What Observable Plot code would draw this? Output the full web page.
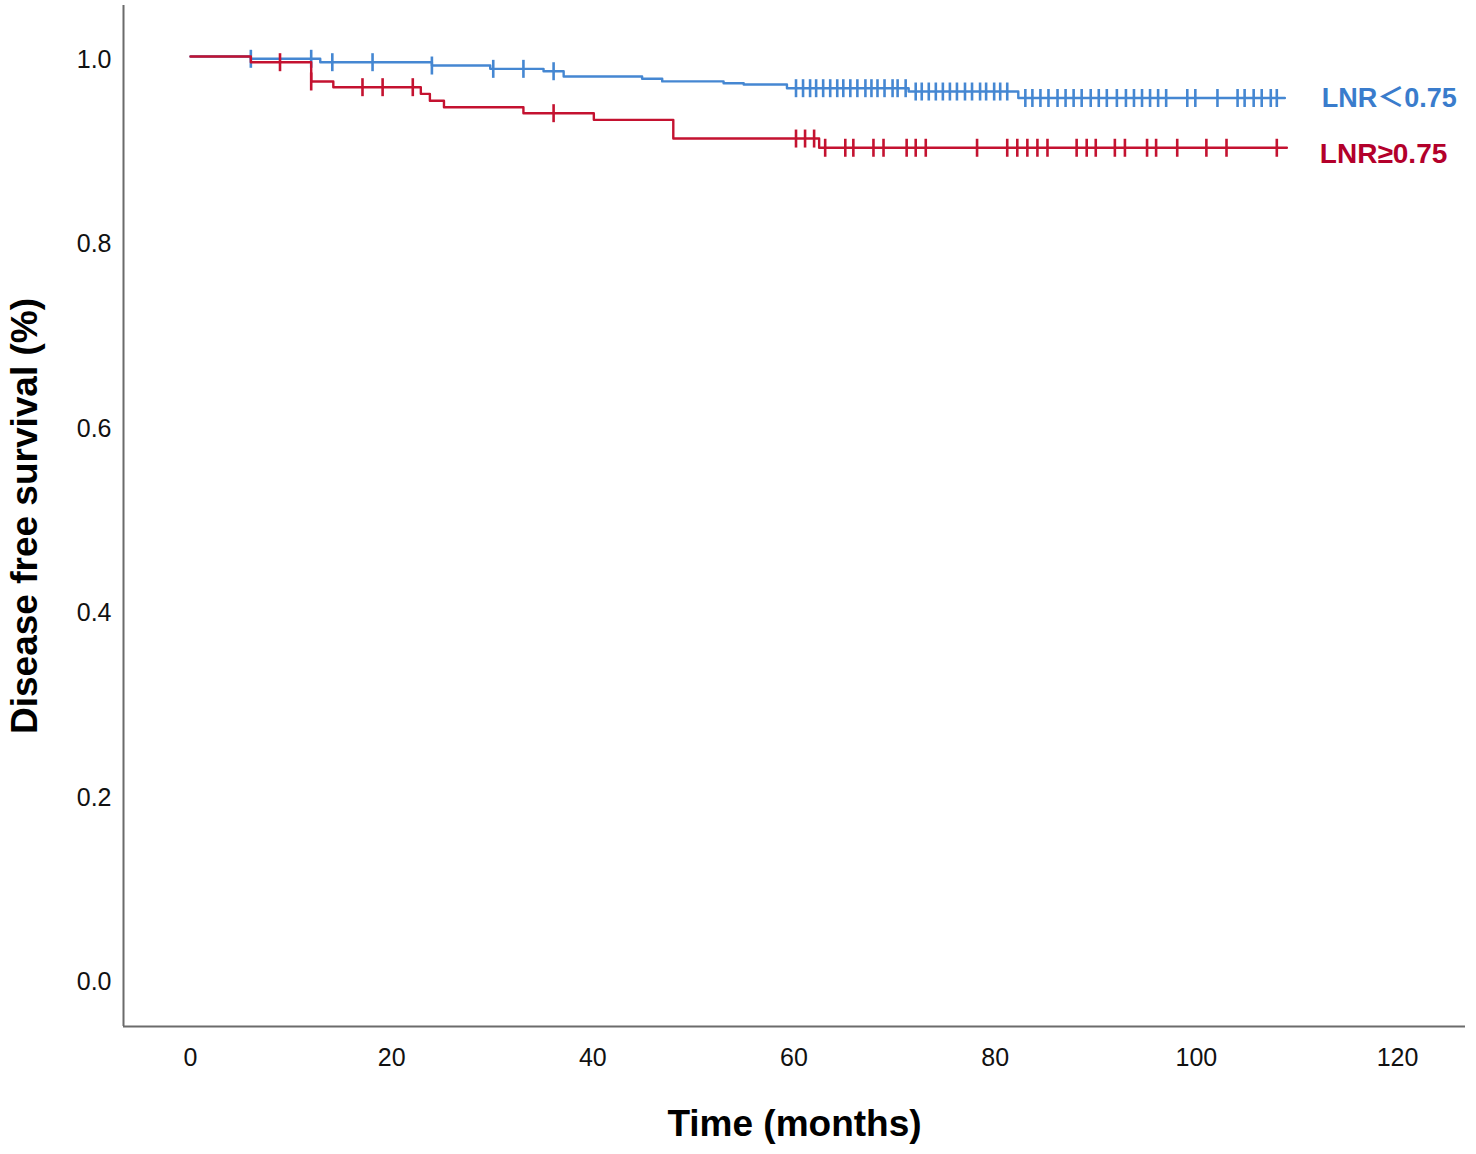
<!DOCTYPE html>
<html><head><meta charset="utf-8">
<script src="https://cdn.jsdelivr.net/npm/d3@7"></script>
<script src="https://cdn.jsdelivr.net/npm/@observablehq/plot@0.6"></script>
<style>body{margin:0;background:#fff} svg{display:block}</style>
</head><body><div id="chart"></div>
<script>
// ---- data ----
const xTicks = [0, 20, 40, 60, 80, 100, 120];
const yTicks = [0.0, 0.2, 0.4, 0.6, 0.8, 1.0];

const blueName = "LNR＜0.75";
const blueTimes = [0, 6.0, 12.9, 24.0, 29.8, 35.1, 37.1, 44.9, 46.9, 53.0, 55.0, 59.3, 71.4, 82.3];
const blueSurv  = [1.0, 0.9975, 0.9938, 0.9902, 0.9866, 0.984, 0.9783, 0.9758, 0.973, 0.971, 0.9696, 0.9656, 0.962, 0.955];
const blueEnd = 108.8;
const blueCensor = [6.0, 12.0, 14.1, 18.1, 24.0, 30.1, 33.1, 36.1,
  60.2, 60.9, 61.6, 62.2, 62.9, 63.6, 64.3, 64.9, 65.6, 66.3, 67.1, 67.7, 68.3, 69.0, 69.8, 70.3, 71.1,
  72.1, 72.7, 73.4, 74.1, 74.8, 75.5, 76.2, 77.0, 77.7, 78.5, 79.1, 79.9, 80.5, 81.2,
  83.0, 83.7, 84.5, 85.3, 86.2, 87.0, 87.8, 88.6, 89.5, 90.3, 91.1, 92.1, 93.0, 93.8, 94.6, 95.4, 96.2, 97.0,
  99.1, 99.9, 102.1, 104.1, 104.8, 105.7, 106.5, 107.4, 108.0];

const redName = "LNR≥0.75";
const redTimes = [0, 6.0, 12.0, 14.2, 22.9, 23.8, 25.2, 33.1, 40.1, 48.0, 62.5];
const redSurv  = [1.0, 0.9938, 0.9729, 0.9667, 0.9595, 0.952, 0.945, 0.9385, 0.9313, 0.911, 0.901];
const redEnd = 109.0;
const redCensor = [8.9, 12.0, 17.1, 19.1, 22.1, 36.1,
  60.2, 61.1, 62.0, 63.1, 65.1, 65.9, 67.9, 68.9, 71.2, 72.1, 73.1, 78.2,
  81.2, 82.2, 83.2, 84.2, 85.2, 88.1, 89.1, 90.0, 91.9, 92.9, 95.1, 96.0, 98.1, 101.0, 103.0, 108.0];

// ---- build tables ----
function curve(times, surv, end) {
  const pts = times.map((t, i) => ({t, s: surv[i]}));
  pts.push({t: end, s: surv[surv.length - 1]});
  return pts;
}
function censorPts(times, surv, cens) {
  return cens.map(c => {
    let s = surv[0];
    for (let i = 0; i < times.length; i++) if (times[i] <= c) s = surv[i];
    return {t: c, s};
  });
}
const blueCurve = curve(blueTimes, blueSurv, blueEnd);
const redCurve = curve(redTimes, redSurv, redEnd);
const blueMarks = censorPts(blueTimes, blueSurv, blueCensor);
const redMarks = censorPts(redTimes, redSurv, redCensor);

const blueLine = "#4587d2", redLine = "#c41230";
const blueText = "#3a7ccc", redText = "#b3002b";

const xDomain = [-6.66, 126.76];
const yDomain = [-0.0521, 1.0553];

const vline = {draw(ctx, size) { const r = Math.sqrt(size / Math.PI); ctx.moveTo(0, -r); ctx.lineTo(0, r); }};

const chart = Plot.plot({
  width: 1476,
  height: 1154,
  marginLeft: 123,
  marginRight: 11,
  marginTop: 5,
  marginBottom: 128,
  style: {fontFamily: "'Liberation Sans', Arial, 'Noto Sans CJK SC', sans-serif", background: "#fff", color: "#111"},
  x: {domain: xDomain},
  y: {domain: yDomain},
  marks: [
    Plot.axisX({ticks: xTicks, tickSize: 0, tickPadding: 22, fontSize: 25, label: null, tickFormat: d => String(d)}),
    Plot.axisY({ticks: yTicks, tickSize: 0, tickPadding: 12, fontSize: 25, label: null, dy: 3.5, tickFormat: d3.format(".1f")}),
    Plot.ruleX([xDomain[0]], {stroke: "#6b6b6b", strokeWidth: 2}),
    Plot.ruleY([yDomain[0]], {stroke: "#6b6b6b", strokeWidth: 2}),
    Plot.line(blueCurve, {x: "t", y: "s", curve: "step-after", stroke: blueLine, strokeWidth: 2.4}),
    Plot.dot(blueMarks, {x: "t", y: "s", symbol: vline, r: 9, fill: "none", stroke: blueLine, strokeWidth: 2.6}),
    Plot.line(redCurve, {x: "t", y: "s", curve: "step-after", stroke: redLine, strokeWidth: 2.4}),
    Plot.dot(redMarks, {x: "t", y: "s", symbol: vline, r: 9, fill: "none", stroke: redLine, strokeWidth: 2.6}),
    Plot.text([{t: blueEnd, s: blueSurv[blueSurv.length - 1], name: blueName}], {x: "t", y: "s", text: "name", textAnchor: "start", dx: 37, dy: 0, fill: blueText, fontSize: 27, fontWeight: "bold"}),
    Plot.text([{t: redEnd, s: redSurv[redSurv.length - 1], name: redName}], {x: "t", y: "s", text: "name", textAnchor: "start", dx: 33, dy: 6, fill: redText, fontSize: 28, fontWeight: "bold"}),
    Plot.text(["Disease free survival (%)"], {frameAnchor: "left", textAnchor: "middle", lineAnchor: "middle", rotate: -90, dx: -98, fontSize: 37, fontWeight: "bold", fill: "#000"}),
    Plot.text(["Time (months)"], {frameAnchor: "bottom", textAnchor: "middle", lineAnchor: "middle", dy: 98, fontSize: 37, fontWeight: "bold", fill: "#000"})
  ]
});
document.getElementById("chart").appendChild(chart);
</script>
</body></html>
